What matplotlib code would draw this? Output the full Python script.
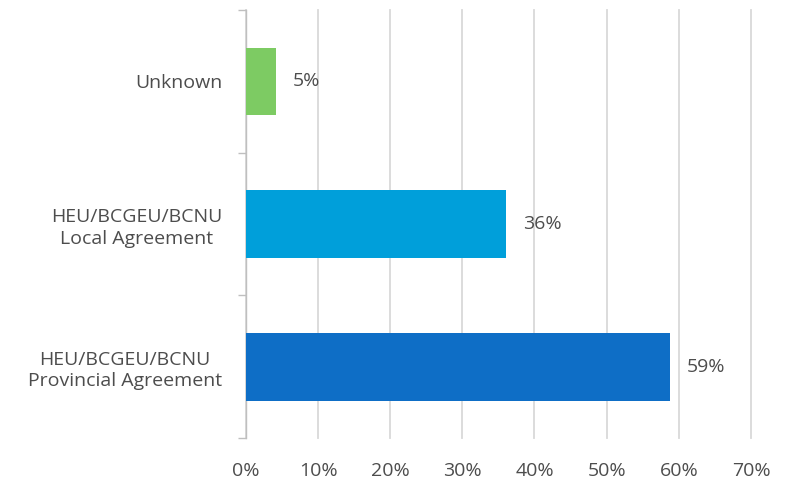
import matplotlib
matplotlib.use("Agg")
import matplotlib.pyplot as plt
from matplotlib.ticker import FixedLocator, PercentFormatter

categories = ["HEU/BCGEU/BCNU\nProvincial Agreement", "HEU/BCGEU/BCNU\nLocal Agreement", "Unknown"]
values = [58.8, 36.1, 4.2]
labels = ["59%", "36%", "5%"]
colors = ["#0E6EC6", "#009FDA", "#7DCB63"]
xticks = [0, 10, 20, 30, 40, 50, 60, 70]

plt.rcParams['font.family'] = ['Open Sans', 'DejaVu Sans']
text_color = "#4D4D4D"
fs = 14

fig = plt.figure(figsize=(7.88, 4.83), dpi=100)
ax = fig.add_axes([0.312, 0.093, 0.641, 0.886])

y = list(range(len(categories)))
ax.barh(y, values, height=0.475, color=colors, zorder=3)
for yi, v, lab in zip(y, values, labels):
    ax.annotate(lab, xy=(v, yi), xytext=(12, 0), textcoords="offset points",
                va="center", ha="left", fontsize=fs, color=text_color)

ax.set_xlim(0, 70)
ax.set_ylim(-0.5, 2.5)
ax.set_xticks(xticks)
ax.xaxis.set_major_formatter(PercentFormatter(decimals=0))
ax.set_yticks(y)
ax.set_yticklabels(categories)
ax.yaxis.set_minor_locator(FixedLocator([-0.5, 0.5, 1.5, 2.5]))
ax.tick_params(axis="y", which="major", length=0, pad=17, labelsize=fs, labelcolor=text_color)
ax.tick_params(axis="y", which="minor", length=6, color="#BFBFBF", width=1)
ax.tick_params(axis="x", which="major", length=0, pad=17, labelsize=fs, labelcolor=text_color)
for lab in ax.get_yticklabels():
    lab.set_horizontalalignment("right")
    lab.set_multialignment("center")
    lab.set_linespacing(1.25)

ax.grid(axis="x", color="#D9D9D9", linewidth=1.3, zorder=0)
for gl in ax.get_xgridlines():
    gl.set_clip_on(False)
for s in ["top", "right", "bottom"]:
    ax.spines[s].set_visible(False)
ax.spines["left"].set_color("#BFBFBF")
ax.spines["left"].set_linewidth(1)

fig.savefig("out.png", dpi=100)
